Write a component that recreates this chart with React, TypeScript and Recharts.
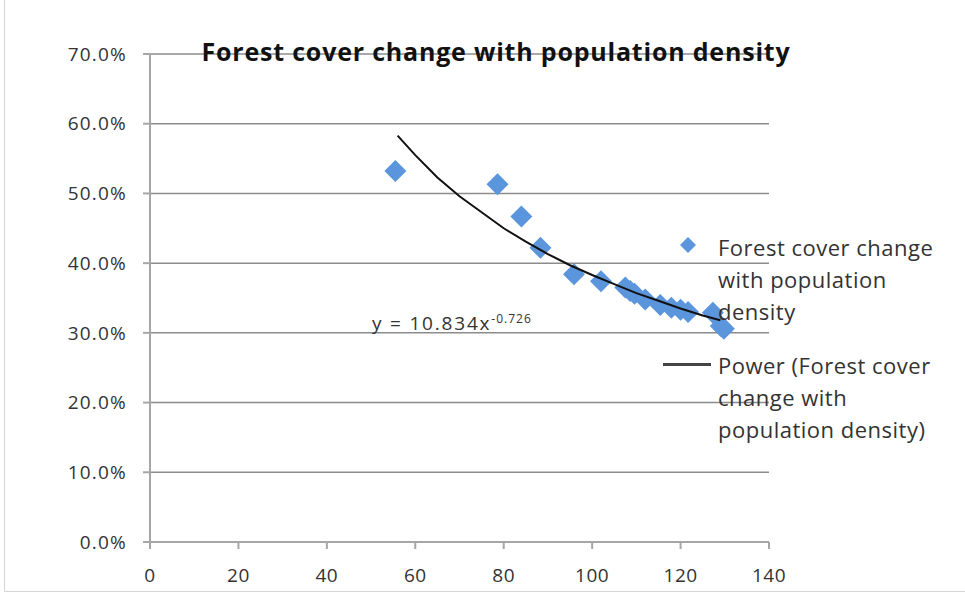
import { ScatterChart, Scatter, XAxis, YAxis, CartesianGrid } from 'recharts';

// population density (x) vs forest cover change in % (y)
const density = [55.5, 78.6, 84.0, 88.3, 95.9, 102.0, 107.5, 108.6, 109.6, 112.0, 115.4, 117.9, 120.0, 121.7, 127.3, 129.1, 129.8];
const coverChange = [53.2, 51.3, 46.7, 42.2, 38.4, 37.4, 36.5, 36.0, 35.6, 34.8, 34.0, 33.6, 33.3, 33.0, 32.9, 31.0, 30.6];

// power trendline
const trendDensity = [56, 60, 65, 70, 75, 80, 85, 90, 95, 100, 105, 110, 115, 120, 125, 129];
const trendCover = [58.3, 55.5, 52.3, 49.6, 47.3, 45.0, 43.1, 41.3, 39.7, 38.3, 37.0, 35.7, 34.6, 33.5, 32.5, 31.8];

const xTicks = [0, 20, 40, 60, 80, 100, 120, 140];
const yTicks = [0, 10, 20, 30, 40, 50, 60, 70];

const title = 'Forest cover change with population density';
const seriesName = 'Forest cover change with population density';
const trendName = 'Power (Forest cover change with population density)';

const points = density.map((x, i) => ({ x, y: coverChange[i] }));
const trend = trendDensity.map((x, i) => ({ x, y: trendCover[i] }));

const FONT = '"Open Sans", Lato, sans-serif';
const BLUE = '#5b95dc';
const TEXT = '#333';

function Diamond(props: any) {
  const { cx, cy } = props;
  const r = 11;
  return (
    <polygon
      points={`${cx},${cy - r} ${cx + r},${cy} ${cx},${cy + r} ${cx - r},${cy}`}
      fill={BLUE}
    />
  );
}

function NoDot() {
  return <g />;
}

export default function App() {
  return (
    <div
      style={{
        position: 'absolute',
        left: 0,
        top: 0,
        width: 965,
        height: 596,
        background: '#fff',
        fontFamily: FONT,
      }}
    >
      <div
        style={{
          position: 'absolute',
          left: 4,
          top: 0,
          width: 961,
          height: 591,
          borderLeft: '1px solid #d4d4d4',
          borderBottom: '1px solid #d4d4d4',
        }}
      />
      <ScatterChart
        width={965}
        height={596}
        margin={{ top: 54, right: 196, bottom: 14, left: 0 }}
      >
        <CartesianGrid vertical={false} stroke="#8c8c8c" strokeWidth={1.5} />
        <XAxis
          type="number"
          dataKey="x"
          domain={[0, 140]}
          ticks={xTicks}
          height={40}
          tickSize={7}
          tickMargin={20}
          stroke="#a6a6a6"
          strokeWidth={2}
          tick={{ fill: TEXT, fontSize: 19, fontFamily: FONT, letterSpacing: 0.5 }}
        />
        <YAxis
          type="number"
          dataKey="y"
          domain={[0, 70]}
          ticks={yTicks}
          width={150}
          tickSize={7}
          tickMargin={16}
          stroke="#a6a6a6"
          strokeWidth={2}
          tickFormatter={(v: number) => `${v.toFixed(1)}%`}
          tick={{ fill: TEXT, fontSize: 19, fontFamily: FONT, letterSpacing: 1.2 }}
        />
        <Scatter
          name={seriesName}
          data={points}
          shape={Diamond}
          isAnimationActive={false}
        />
        <Scatter
          name={trendName}
          data={trend}
          line={{ stroke: '#111', strokeWidth: 2 }}
          lineType="joint"
          shape={NoDot}
          isAnimationActive={false}
        />
      </ScatterChart>

      <div
        style={{
          position: 'absolute',
          left: 0,
          width: 992,
          top: 34,
          textAlign: 'center',
          fontSize: 25,
          fontWeight: 700,
          color: '#111',
          letterSpacing: 0.8,
          whiteSpace: 'nowrap',
        }}
      >
        {title}
      </div>

      <div
        style={{
          position: 'absolute',
          left: 372,
          top: 310,
          fontSize: 19,
          color: TEXT,
          whiteSpace: 'nowrap',
          letterSpacing: 1.8,
        }}
      >
        y = 10.834x<sup style={{ fontSize: 12, letterSpacing: 1 }}>-0.726</sup>
      </div>

      <div style={{ position: 'absolute', left: 680, top: 236, width: 16, height: 16 }}>
        <svg width={16} height={16}>
          <polygon points="8,0 16,8 8,16 0,8" fill={BLUE} />
        </svg>
      </div>
      <div
        style={{
          position: 'absolute',
          left: 718,
          top: 231,
          width: 245,
          fontSize: 22,
          lineHeight: '32px',
          color: TEXT,
          whiteSpace: 'nowrap',
          letterSpacing: 0.5,
        }}
      >
        Forest cover change
        <br />
        with population
        <br />
        density
      </div>

      <div
        style={{
          position: 'absolute',
          left: 663,
          top: 363,
          width: 48,
          height: 3,
          background: '#444',
        }}
      />
      <div
        style={{
          position: 'absolute',
          left: 718,
          top: 349,
          width: 245,
          fontSize: 22,
          lineHeight: '32px',
          color: TEXT,
          whiteSpace: 'nowrap',
          letterSpacing: 0.5,
        }}
      >
        Power (Forest cover
        <br />
        change with
        <br />
        population density)
      </div>
    </div>
  );
}
